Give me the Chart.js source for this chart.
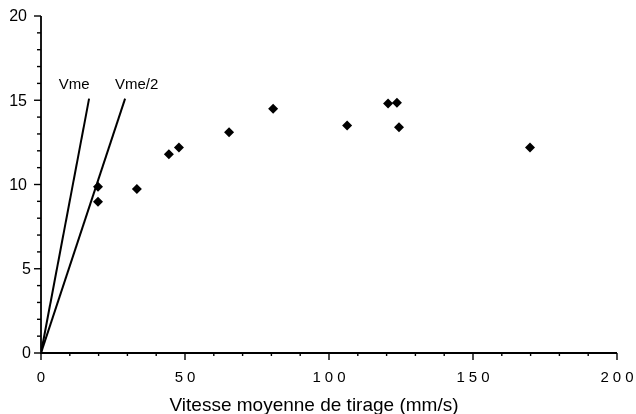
<!DOCTYPE html>
<html>
<head>
<meta charset="utf-8">
<script src="https://cdn.jsdelivr.net/npm/chart.js@4"></script>
<style>
  html, body { margin: 0; padding: 0; background: #fff; }
  #wrap { width: 636px; height: 414px; }
</style>
</head>
<body>
<div id="wrap"><canvas id="chart" width="636" height="414"></canvas></div>
<script>
const speeds = [19.8, 19.8, 33.3, 44.4, 47.9, 65.3, 80.6, 106.3, 120.5, 123.6, 124.3, 169.8];
const values = [9.86, 8.97, 9.74, 11.8, 12.2, 13.1, 14.5, 13.5, 14.8, 14.85, 13.4, 12.2];

// reference lines from the origin
const vmeX = [0, 16.7];
const vmeY = [0, 15.1];
const vme2X = [0, 29.2];
const vme2Y = [0, 15.1];
const lineLabels = ['Vme', 'Vme/2'];
const lineLabelPos = [[11.5, 15.9], [33.2, 15.9]];

const xTicks = [0, 50, 100, 150, 200];
const yTicks = [0, 5, 10, 15, 20];
const xTitle = 'Vitesse moyenne de tirage (mm/s)';

const toPoints = (xs, ys) => xs.map((x, i) => ({ x: x, y: ys[i] }));

const FONT = '"Liberation Sans", Arial, sans-serif';

// draws axes, ticks, tick labels and line labels by hand
const axesPlugin = {
    id: 'axesPlugin',
    afterDraw(chart) {
        const ctx = chart.ctx;
        const xs = chart.scales.x;
        const ys = chart.scales.y;
        const x0 = xs.getPixelForValue(0);
        const y0 = ys.getPixelForValue(0);
        ctx.save();
        ctx.strokeStyle = '#000';
        ctx.fillStyle = '#000';
        ctx.lineWidth = 1.8;
        // axis lines
        ctx.beginPath();
        ctx.moveTo(x0, ys.getPixelForValue(20));
        ctx.lineTo(x0, y0);
        ctx.lineTo(xs.getPixelForValue(200), y0);
        ctx.stroke();

        // y ticks
        ctx.lineWidth = 1.4;
        for (let v = 0; v <= 20; v += 1) {
            const py = ys.getPixelForValue(v);
            const len = v % 5 === 0 ? 7 : 4;
            ctx.beginPath();
            ctx.moveTo(x0 - len, py);
            ctx.lineTo(x0, py);
            ctx.stroke();
        }
        // x ticks
        for (let v = 0; v <= 200; v += 10) {
            const px = xs.getPixelForValue(v);
            const len = v % 50 === 0 ? 7 : 3;
            ctx.beginPath();
            ctx.moveTo(px, y0);
            ctx.lineTo(px, y0 + len);
            ctx.stroke();
        }

        // y tick labels
        ctx.font = '16px ' + FONT;
        ctx.textAlign = 'right';
        ctx.textBaseline = 'middle';
        yTicks.forEach(v => {
            const right = v < 10 ? x0 - 10 : x0 - 14;
            ctx.fillText(String(v), right, ys.getPixelForValue(v) + 1);
        });

        // x tick labels, spaced out like the original
        ctx.font = '15px ' + FONT;
        ctx.letterSpacing = '4px';
        ctx.textAlign = 'center';
        xTicks.forEach(v => {
            ctx.fillText(String(v), xs.getPixelForValue(v) + 2, y0 + 25);
        });
        ctx.letterSpacing = '0px';

        // axis title
        ctx.font = '19px ' + FONT;
        ctx.textBaseline = 'alphabetic';
        ctx.fillText(xTitle, 314, 411);

        // line labels
        ctx.font = '15px ' + FONT;
        ctx.textBaseline = 'middle';
        lineLabels.forEach((t, i) => {
            const p = lineLabelPos[i];
            ctx.fillText(t, xs.getPixelForValue(p[0]), ys.getPixelForValue(p[1]));
        });
        ctx.restore();
    }
};

new Chart(document.getElementById('chart'), {
    type: 'scatter',
    data: {
        datasets: [
            {
                label: 'mesures',
                data: toPoints(speeds, values),
                pointStyle: 'rectRot',
                pointRadius: 5,
                backgroundColor: '#000',
                borderColor: '#000',
                borderWidth: 0
            },
            {
                label: 'Vme',
                data: toPoints(vmeX, vmeY),
                showLine: true,
                pointRadius: 0,
                borderColor: '#000',
                borderWidth: 2
            },
            {
                label: 'Vme/2',
                data: toPoints(vme2X, vme2Y),
                showLine: true,
                pointRadius: 0,
                borderColor: '#000',
                borderWidth: 2
            }
        ]
    },
    options: {
        responsive: false,
        animation: false,
        layout: { padding: { top: 16, right: 19, left: 0, bottom: 0 } },
        plugins: {
            legend: { display: false },
            tooltip: { enabled: false }
        },
        scales: {
            x: {
                type: 'linear',
                min: 0,
                max: 200,
                grid: { display: false },
                border: { display: false },
                ticks: { display: false },
                afterFit(scale) { scale.height = 61; }
            },
            y: {
                type: 'linear',
                min: 0,
                max: 20,
                grid: { display: false },
                border: { display: false },
                ticks: { display: false },
                afterFit(scale) { scale.width = 41; }
            }
        }
    },
    plugins: [axesPlugin]
});
</script>
</body>
</html>
